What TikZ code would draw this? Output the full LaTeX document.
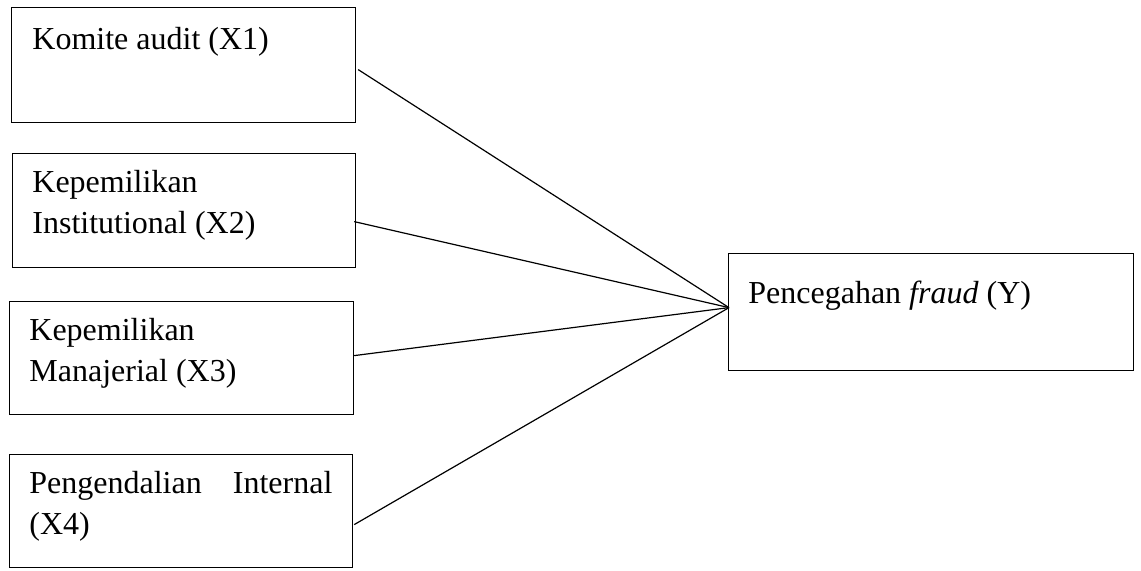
\documentclass[tikz,border=0pt]{standalone}
\usepackage{fontspec}
\setmainfont{Liberation Serif}

\begin{document}
\begin{tikzpicture}[x=0.5pt,y=-0.5pt,
    box/.style={draw, line width=0.6pt, rectangle, inner sep=0pt, anchor=north west},
    txt/.style={anchor=base west, inner sep=0pt, align=flush left, text width=160pt,
      font=\fontsize{16}{20.5}\selectfont}]
  \useasboundingbox (0,0) rectangle (1141,570);
  % variabel bebas
  \node[box, minimum width=172pt, minimum height=57.5pt] (x1) at (11,7) {};
  \node[box, minimum width=171.5pt, minimum height=57pt] (x2) at (12,153) {};
  \node[box, minimum width=172pt, minimum height=56.5pt] (x3) at (9,301) {};
  \node[box, minimum width=171.5pt, minimum height=56.5pt] (x4) at (9,454) {};
  % variabel terikat
  \node[box, minimum width=202.5pt, minimum height=58.5pt] (fraud) at (728,253) {};

  \node[txt] (t1) at (32,49) {Komite audit (X1)};
  \node[txt] (t2) at (32,192) {Kepemilikan\\Institutional (X2)};
  \node[txt] (t3) at (29,340) {Kepemilikan\\Manajerial (X3)};
  \node[txt, text width=151.5pt] (t4) at (29,493) {Pengendalian\hfill Internal\\(X4)};
  \node[txt, text width=190pt] (ty) at (748,303) {Pencegahan \textit{fraud} (Y)};

  \coordinate (meet) at ([shift={(1,-4.5)}]fraud.west);
  \draw[line width=0.6pt] ([shift={(2,4.5)}]x1.east) -- (meet);
  \draw[line width=0.6pt] ([shift={(-2,11)}]x2.east) -- (meet);
  \draw[line width=0.6pt] ([shift={(0,-2.5)}]x3.east) -- (meet);
  \draw[line width=0.6pt] ([shift={(1,13.5)}]x4.east) -- (meet);
\end{tikzpicture}
\end{document}
